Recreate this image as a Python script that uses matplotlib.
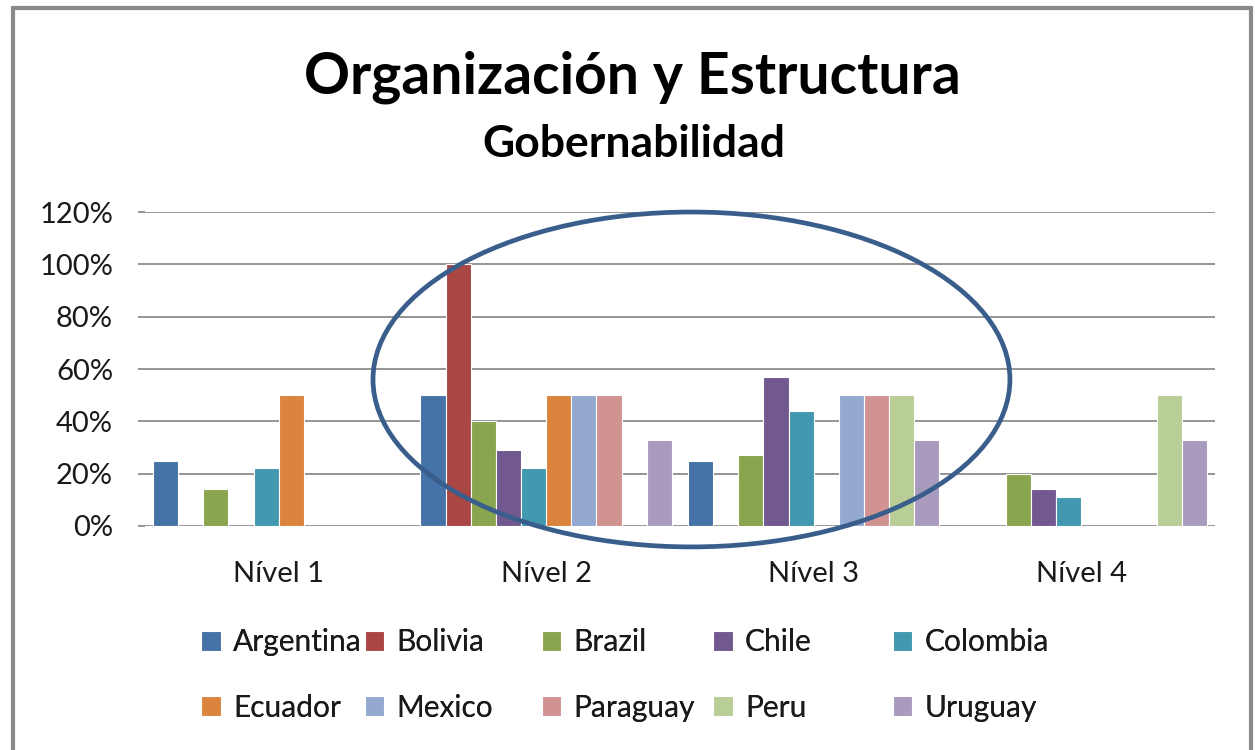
import matplotlib
matplotlib.use('Agg')
import matplotlib.pyplot as plt
from matplotlib.patches import Ellipse, Rectangle
from matplotlib.ticker import PercentFormatter
import numpy as np

plt.rcParams['font.family'] = ['Lato', 'DejaVu Sans']

niveles = ['Nível 1', 'Nível 2', 'Nível 3', 'Nível 4']
paises = ['Argentina', 'Bolivia', 'Brazil', 'Chile', 'Colombia',
          'Ecuador', 'Mexico', 'Paraguay', 'Peru', 'Uruguay']
colores = ['#4572A7', '#AA4643', '#89A54E', '#71588F', '#4198AF',
           '#DB843D', '#93A9CF', '#D19392', '#B9CD96', '#A99BBD']

# valores por pais (Nivel 1..4)
argentina = [0.25, 0.50, 0.25, 0.00]
bolivia = [0.00, 1.00, 0.00, 0.00]
brazil = [0.14, 0.40, 0.27, 0.20]
chile = [0.00, 0.29, 0.57, 0.14]
colombia = [0.22, 0.22, 0.44, 0.11]
ecuador = [0.50, 0.50, 0.00, 0.00]
mexico = [0.00, 0.50, 0.50, 0.00]
paraguay = [0.00, 0.50, 0.50, 0.00]
peru = [0.00, 0.00, 0.50, 0.50]
uruguay = [0.00, 0.33, 0.33, 0.33]
series = [argentina, bolivia, brazil, chile, colombia,
          ecuador, mexico, paraguay, peru, uruguay]

fig = plt.figure(figsize=(12.55, 7.5), dpi=100)
ax = fig.add_axes([0.1155, 0.2987, 0.8526, 0.4186])

x = np.arange(len(niveles))
w = 0.094
bars = []
for i, (vals, c) in enumerate(zip(series, colores)):
    b = ax.bar(x + (i - 4.5) * w, vals, w, color=c, edgecolor='white',
               linewidth=0.8, zorder=3, label=paises[i])
    bars.append(b)

ax.set_xlim(-0.5, 3.5)
ax.set_ylim(0, 1.2)
ax.set_yticks(np.arange(0, 1.21, 0.2))
ax.yaxis.set_major_formatter(PercentFormatter(1.0, decimals=0))
ax.set_xticks(x)
ax.set_xticklabels(niveles)
ax.grid(axis='y', color='#8c8c8c', linewidth=1.3, zorder=0)
for s in ax.spines.values():
    s.set_visible(False)
ax.tick_params(axis='y', length=5, color='#8c8c8c', width=1.3, labelsize=21,
               pad=18, labelcolor='#1a1a1a')
ax.tick_params(axis='x', length=0, labelsize=21, pad=25, labelcolor='#1a1a1a')

# ellipse highlight
ell = Ellipse((1.543, 0.56), 2.381, 1.28, fill=False, edgecolor='#3A5E8C',
              linewidth=3.4, clip_on=False, zorder=5)
ax.add_patch(ell)

fig.text(0.504, 0.897, 'Organización y Estructura', ha='center', va='center',
         fontsize=41, fontweight='bold')
fig.text(0.505, 0.808, 'Gobernabilidad', ha='center', va='center',
         fontsize=32, fontweight='bold')

# legend: one small legend per column
col_x = [0.151, 0.281, 0.422, 0.559, 0.702]
for j in range(5):
    lg = fig.legend([bars[j], bars[j + 5]], [paises[j], paises[j + 5]],
                    loc='upper left', bbox_to_anchor=(col_x[j], 0.178),
                    frameon=False, fontsize=21.5, handlelength=0.65,
                    handleheight=0.65, handletextpad=0.4, labelspacing=1.25,
                    borderaxespad=0, labelcolor='#1a1a1a')
    fig.add_artist(lg)

# outer frame
fig.add_artist(Rectangle((0.0103, -0.05), 0.9865, 1.04, transform=fig.transFigure,
                         fill=False, edgecolor='#8a8a8a', linewidth=3))

fig.savefig('out.png', dpi=100)
